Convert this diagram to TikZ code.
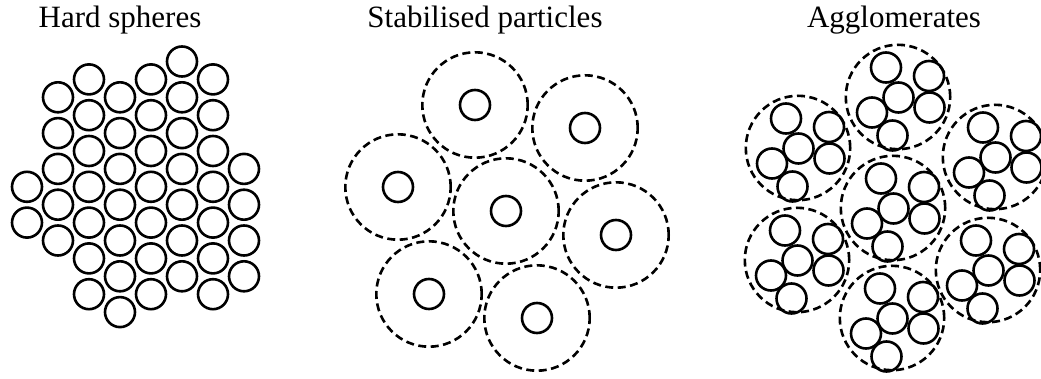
\documentclass[tikz,border=0pt]{standalone}
\usepackage{fontspec}
\setmainfont{Liberation Serif}
\usetikzlibrary{positioning}

\begin{document}
\begin{tikzpicture}[
  x=1pt, y=-1pt,
  title/.style={anchor=base, inner sep=0pt, font=\fontsize{31}{36}\selectfont},
  sphere/.style={draw, line width=2.6pt},
  shell/.style={draw, line width=2.6pt, dash pattern=on 8pt off 4.5pt}
]
\useasboundingbox (0,0) rectangle (1041,379);

% titles
\node[title] (hard) at (120,28) {Hard spheres};
\node[title] (stab) at (485,28) {Stabilised particles};
\node[title] (aggl) at (894,28) {Agglomerates};

% hard spheres, columns of a hexagonal packing
\foreach \col/\rows in {0/{7,9}, 1/{2,4,6,8,10}, 2/{1,3,5,7,9,11,13}, 3/{2,4,6,8,10,12,14},
                        4/{1,3,5,7,9,11,13}, 5/{0,2,4,6,8,10,12}, 6/{1,3,5,7,9,11,13}, 7/{6,8,10,12}}
  \foreach \k in \rows
    \draw[sphere] ({27+31*\col},{61.5+17.9*\k}) circle[radius=15pt];

% stabilised particles
\foreach \cx/\cy in {475/105, 585/128, 398/187, 506/211, 616/235, 429/294, 537/318} {
  \draw[shell] (\cx,\cy) circle[radius=52.7pt];
  \draw[sphere] (\cx,\cy) circle[radius=15pt];
}

% agglomerates
\foreach \cx/\cy in {898/97, 798/148, 995/157, 893/208, 797/260, 988/270, 892/318} {
  \draw[shell] (\cx,\cy) circle[radius=52.2pt];
  \foreach \dx/\dy in {-12/-29.5, 31/-21, 0.5/0.5, -26/15.5, 31.5/10.5, -5.5/38.5}
    \draw[sphere] (\cx+\dx,\cy+\dy) circle[radius=15pt];
}
\end{tikzpicture}
\end{document}
